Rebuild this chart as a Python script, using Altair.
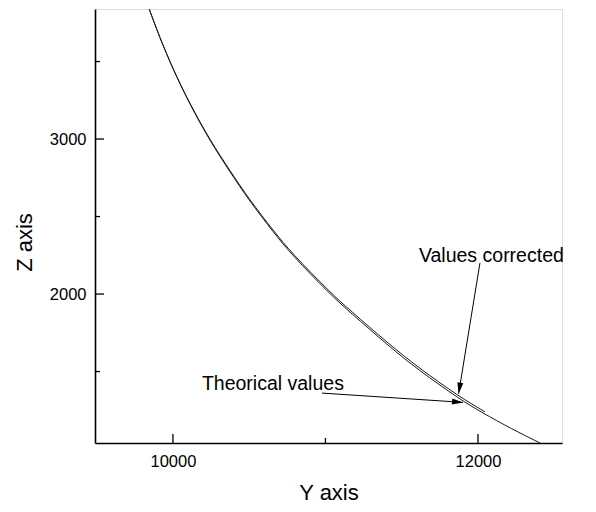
import altair as alt
import pandas as pd

# Theoretical curve (Y axis value, Z axis value)
theo_y = [9845, 9915, 10002, 10111, 10243, 10374, 10505, 10656, 10800, 11010,
          11180, 11403, 11620, 11862, 12033, 12220, 12407]
theo_z = [3837, 3655, 3451, 3228, 2993, 2789, 2600, 2404, 2236, 2022,
          1867, 1677, 1506, 1337, 1233, 1132, 1039]

# Corrected values
corr_y = [9845, 9915, 10002, 10111, 10243, 10374, 10505, 10656, 10800, 11010,
          11180, 11403, 11620, 11862, 12046]
corr_z = [3837, 3655, 3453, 3232, 2999, 2797, 2609, 2414, 2247, 2034,
          1880, 1691, 1521, 1352, 1240]

# Axis ticks
x_major = [10000, 12000]
x_minor = [11000]
z_major = [2000, 3000]
z_minor = [1500, 2500, 3500]

# Annotations
ann_text = ["Values corrected", "Theorical values"]
ann_y = [11613, 10190]
ann_z = [2206, 1381]
arrow_y1 = [12013, 10977]
arrow_z1 = [2200, 1361]
arrow_y2 = [11873, 11902]
arrow_z2 = [1357, 1301]
arrow_angle = [189.2, 94.5]

W, H = 467, 434
FONT = "Liberation Sans"

curves = pd.DataFrame({
    "y": theo_y + corr_y,
    "z": theo_z + corr_z,
    "series": ["Theorical values"] * len(theo_y) + ["Values corrected"] * len(corr_y),
})
texts = pd.DataFrame({"y": ann_y, "z": ann_z, "label": ann_text})
arrows = pd.DataFrame({"y1": arrow_y1, "z1": arrow_z1, "y2": arrow_y2,
                       "z2": arrow_z2, "angle": arrow_angle})

xs = alt.Scale(domain=[9489, 12551], nice=False, zero=False)
ys = alt.Scale(domain=[1039, 3839], nice=False, zero=False)

x_axis = alt.Axis(values=x_major, format="d", ticks=False, grid=False,
                  labelPadding=10, labelFontSize=16.5, labelFont=FONT, labelColor="black",
                  domainColor="black", domainWidth=1.6,
                  title="Y axis", titleFont=FONT, titleFontSize=22, titleFontWeight="normal",
                  titleColor="black", titleX=W / 2, titleY=56, titleBaseline="alphabetic")
y_axis = alt.Axis(values=z_major, format="d", ticks=False, grid=False,
                  labelPadding=9, labelFontSize=16.5, labelFont=FONT, labelColor="black",
                  labelBaseline="middle",
                  domainColor="black", domainWidth=1.6,
                  title="Z axis", titleFont=FONT, titleFontSize=22, titleFontWeight="normal",
                  titleColor="black", titleX=-64, titleY=233, titleAngle=270,
                  titleAlign="center", titleBaseline="alphabetic")

lines = alt.Chart(curves).mark_line(color="#1a1a1a", strokeWidth=1, interpolate="natural", clip=True).encode(
    x=alt.X("y:Q", scale=xs, axis=x_axis),
    y=alt.Y("z:Q", scale=ys, axis=y_axis),
    detail="series:N",
)

xt_major = alt.Chart(pd.DataFrame({"v": x_major})).mark_rule(color="black", strokeWidth=1.3).encode(
    x=alt.X("v:Q", scale=xs), y=alt.value(H), y2=alt.value(H - 9))
xt_minor = alt.Chart(pd.DataFrame({"v": x_minor})).mark_rule(color="black", strokeWidth=1.3).encode(
    x=alt.X("v:Q", scale=xs), y=alt.value(H), y2=alt.value(H - 5))
zt_major = alt.Chart(pd.DataFrame({"v": z_major})).mark_rule(color="black", strokeWidth=1.3).encode(
    y=alt.Y("v:Q", scale=ys), x=alt.value(0), x2=alt.value(9))
zt_minor = alt.Chart(pd.DataFrame({"v": z_minor})).mark_rule(color="black", strokeWidth=1.3).encode(
    y=alt.Y("v:Q", scale=ys), x=alt.value(0), x2=alt.value(5))

labels = alt.Chart(texts).mark_text(align="left", baseline="alphabetic", font=FONT,
                                    fontSize=19.5, color="black").encode(
    x=alt.X("y:Q", scale=xs), y=alt.Y("z:Q", scale=ys), text="label:N")

arrow_lines = alt.Chart(arrows).mark_rule(color="black", strokeWidth=1).encode(
    x=alt.X("y1:Q", scale=xs), y=alt.Y("z1:Q", scale=ys),
    x2="y2:Q", y2="z2:Q")

heads = alt.Chart(arrows).mark_point(shape="M0,0L-0.55,2L0.55,2Z", filled=True, size=121,
                                     color="black", opacity=1, strokeWidth=0).encode(
    x=alt.X("y2:Q", scale=xs), y=alt.Y("z2:Q", scale=ys),
    angle=alt.Angle("angle:Q", scale=None))

chart = alt.layer(lines, xt_major, xt_minor, zt_major, zt_minor, arrow_lines, heads, labels).properties(
    width=W, height=H,
    autosize=alt.AutoSizeParams(type="none"),
    padding={"left": 87, "top": 1, "right": 20, "bottom": 61},
).configure_view(stroke=None).configure(background="white")

chart.save("out.html", embed_options={"renderer": "svg", "actions": False})
